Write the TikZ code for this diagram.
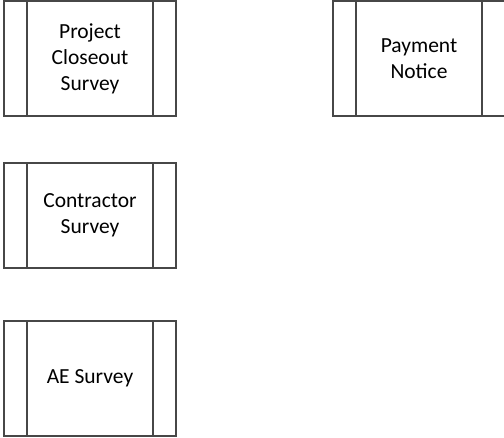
\documentclass[tikz,border=0pt]{standalone}
\usepackage{fontspec}
\setmainfont{Carlito}
\begin{document}
\begin{tikzpicture}[x=1pt,y=-1pt,
    procbox/.style={draw=black!72,line width=1.1pt,rectangle,minimum width=172pt,
        align=center,inner sep=0pt,
        font=\fontsize{21.5}{26}\selectfont,
        path picture={
            \draw[black!72,line width=1.1pt] ([xshift=23pt]path picture bounding box.north west) -- ([xshift=23pt]path picture bounding box.south west);
            \draw[black!72,line width=1.1pt] ([xshift=-23pt]path picture bounding box.north east) -- ([xshift=-23pt]path picture bounding box.south east);
        }}]
    \useasboundingbox (0,0) rectangle (504,437);
    \node[procbox,minimum height=115pt] (closeout) at (90,58.5) {Project\\Closeout\\Survey};
    \node[procbox,minimum height=115pt] (payment) at (419,58.5) {Payment\\Notice};
    \node[procbox,minimum height=105pt] (contractor) at (90,215.5) {Contractor\\Survey};
    \node[procbox,minimum height=115pt] (aesurvey) at (90,378.5) {AE Survey};
\end{tikzpicture}
\end{document}
